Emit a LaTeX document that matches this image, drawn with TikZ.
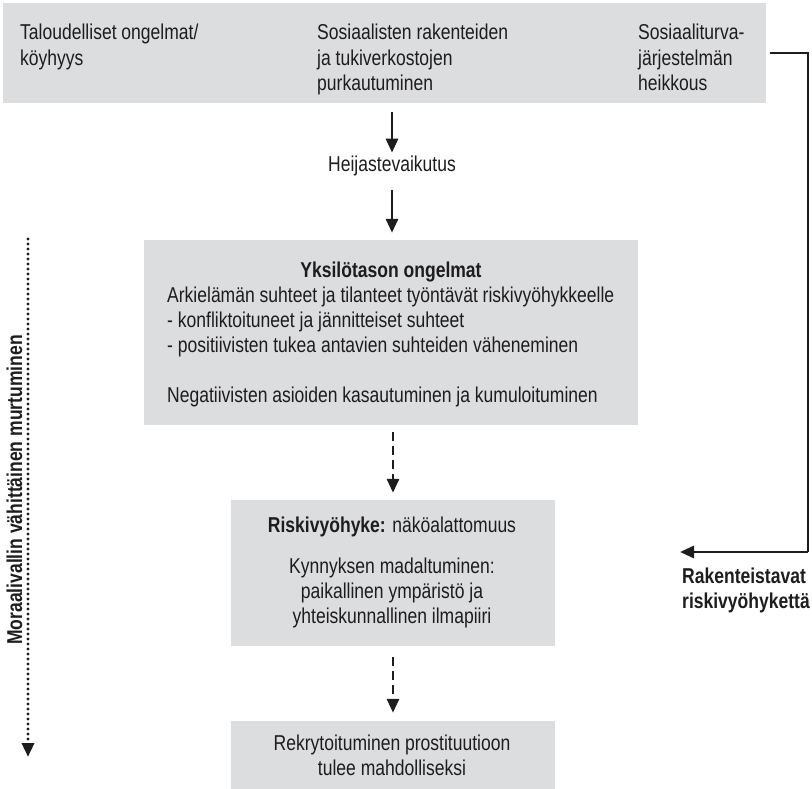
\documentclass[tikz,border=0pt]{standalone}
\usepackage{fontspec}
\setmainfont[FakeStretch=0.815]{Liberation Sans}
\usetikzlibrary{arrows.meta}
\definecolor{panelgray}{RGB}{220,221,223}
\definecolor{ink}{RGB}{30,28,29}
\newcommand{\diagfont}{\fontsize{21.5}{25.2}\selectfont}

\begin{document}
\begin{tikzpicture}[x=1pt,y=-1pt,font=\diagfont]
\tikzstyle{panel}=[rectangle,fill=panelgray,inner sep=0pt]
\tikzstyle{txt}=[inner sep=0pt,text=ink]
\tikzstyle{head}=[txt,font=\diagfont\bfseries]
\tikzstyle{flow}=[line width=2.9pt,draw=ink,-{Triangle[length=14pt,width=12pt]}]
\tikzstyle{weak}=[flow,dash pattern=on 9pt off 5pt]
\tikzstyle{fading}=[flow,line width=3.4pt,line cap=round,dash pattern=on 0pt off 5pt]
\useasboundingbox (0,0) rectangle (812,789);
\node [panel,minimum width=763pt,minimum height=100pt] (causes) at (384,53) {};
\node [panel,minimum width=494pt,minimum height=185pt] (indiv) at (391,332.5) {};
\node [panel,minimum width=324pt,minimum height=146pt] (zone) at (393,573) {};
\node [panel,minimum width=324pt,minimum height=68pt] (recruit) at (393,755) {};
\node [txt,align=left,anchor=base west] (econ) at (20,65.2) {Taloudelliset ongelmat/\\köyhyys};
\node [txt,align=left,anchor=base west] (social) at (317,90.4) {Sosiaalisten rakenteiden\\ja tukiverkostojen\\purkautuminen};
\node [txt,align=left,anchor=base west] (welfare) at (638,90.4) {Sosiaaliturva-\\järjestelmän\\heikkous};
\node [txt,anchor=base] (echo) at (392,172) {Heijastevaikutus};
\node [head,anchor=base] (indivhead) at (391,277) {Yksilötason ongelmat};
\node [txt,align=left,anchor=base west] (indivtext) at (167,402.8) {Arkielämän suhteet ja tilanteet työntävät riskivyöhykkeelle\\- konfliktoituneet ja jännitteiset suhteet\\- positiivisten tukea antavien suhteiden väheneminen\\[25.2pt]Negatiivisten asioiden kasautuminen ja kumuloituminen};
\node [txt,anchor=base] (zonehead) at (392,532) {\textbf{Riskivyöhyke:} näköalattomuus};
\node [txt,align=center,anchor=base] (zonetext) at (392,623.4) {Kynnyksen madaltuminen:\\paikallinen ympäristö ja\\yhteiskunnallinen ilmapiiri};
\node [txt,align=center,anchor=base] (recruittext) at (392,775.2) {Rekrytoituminen prostituutioon\\tulee mahdolliseksi};
\node [head,align=left,anchor=base west] (feedlabel) at (682,608.2) {Rakenteistavat\\riskivyöhykettä};
\node [head,rotate=90,anchor=base] (morallabel) at (22,490) {Moraalivallin vähittäinen murtuminen};
\coordinate (corner) at (808,552);
\coordinate (feedtip) at (680,552);
\coordinate (moraltop) at (28,239);
\coordinate (moralend) at (28,757);
\draw [flow,shorten <=9pt,shorten >=3.6pt] (causes.south -| echo.north) -- (echo.north);
\draw [flow,shorten <=13.5pt,shorten >=7pt] (echo.south) -- (indiv.north -| echo.south);
\draw [weak,shorten <=7pt,shorten >=7pt] (indiv.south -| zone.north) -- (zone.north);
\draw [weak,shorten <=11pt,shorten >=8pt] (zone.south) -- (recruit.north);
\draw [flow,-] ([xshift=4pt]causes.east) -| (corner);
\draw [flow] (corner) -- (feedtip);
\draw [fading] (moraltop) -- (moralend);
\end{tikzpicture}
\end{document}
